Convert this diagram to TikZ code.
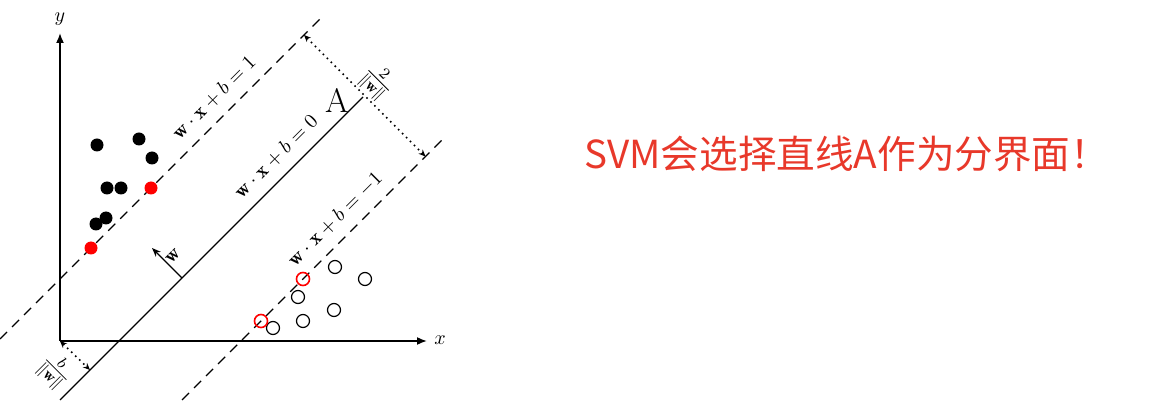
\documentclass[tikz,border=0pt]{standalone}
\usepackage{fontspec}
\newfontfamily\cjk{Noto Sans CJK SC}
\usetikzlibrary{arrows.meta}
\definecolor{notered}{RGB}{232,56,42}

\begin{document}
\begin{tikzpicture}[x=0.5pt,y=-0.5pt,
  axis/.style={thick,-{Latex[length=5pt,width=4pt]}},
  margin/.style={semithick,dash pattern=on 5pt off 3.5pt},
  gap/.style={thick,dotted,{Stealth[length=3.5pt,width=3pt]}-{Stealth[length=3.5pt,width=3pt]}},
  lab/.style={rotate=45}]
\useasboundingbox (0,0) rectangle (1152,406);
% axes
\coordinate (O) at (60,341);
\coordinate (X) at (427,341);
\coordinate (Y) at (60,33);
\draw[axis] (O) -- (X);
\draw[axis] (O) -- (Y);
\node (xlab) at (440,340) {$x$};
\node (ylab) at (60,19) {$y$};
% margins and separating line
\coordinate (u1) at (0,339); \coordinate (u2) at (322,17);
\coordinate (s1) at (60,400); \coordinate (s2) at (363,97);
\coordinate (d1) at (182,400); \coordinate (d2) at (442,140);
\draw[margin] (u1) -- (u2);
\draw[semithick] (s1) -- (s2);
\draw[margin] (d1) -- (d2);
\node[lab] (eq1) at (214,98) {$\mathbf{w}\cdot\mathbf{x}+b=1$};
\node[lab] (eq0) at (276,157) {$\mathbf{w}\cdot\mathbf{x}+b=0$};
\node[lab] (eqm) at (335,219) {$\mathbf{w}\cdot\mathbf{x}+b=-1$};
\node (A) at (337,100) {\fontsize{17}{20}\selectfont A};
% normal vector
\coordinate (wfoot) at (182,278);
\coordinate (whead) at (152,248);
\draw[semithick,-{Stealth[length=4.5pt,width=3.5pt]}] (wfoot) -- (whead);
\node[lab] (wlab) at (173,256) {$\mathbf{w}$};
% distances
\coordinate (g1) at (304,35); \coordinate (g2) at (425.5,156.5);
\draw[gap] (g1) -- (g2);
\node[rotate=-45,font=\large] (two) at (377,82) {$\frac{2}{\|\mathbf{w}\|}$};
\coordinate (b1) at (90,370);
\draw[gap] (O) -- (b1);
\node[rotate=-45,font=\large] (bw) at (55,371) {$\frac{b}{\|\mathbf{w}\|}$};
% points
\foreach \p in {(97,145),(139,139),(152,158),(107,188),(121,188),(106,218),(96,224)}
  \fill \p circle [radius=6.5];
\fill[red] (91,248) circle [radius=6.5]
           (151,188) circle [radius=6.5];
\foreach \p in {(335,267),(365,279),(298,297),(334,310),(303,321),(273,328)}
  \draw[semithick] \p circle [radius=6.5];
\draw[red,thick] (303,279) circle [radius=6.5]
                 (261,321) circle [radius=6.5];
% remark
\node[anchor=west,inner sep=0pt,text=notered] (note) at (584,154)
  {\cjk\fontsize{19.3}{23}\selectfont SVM会选择直线A作为分界面！};
\end{tikzpicture}
\end{document}
